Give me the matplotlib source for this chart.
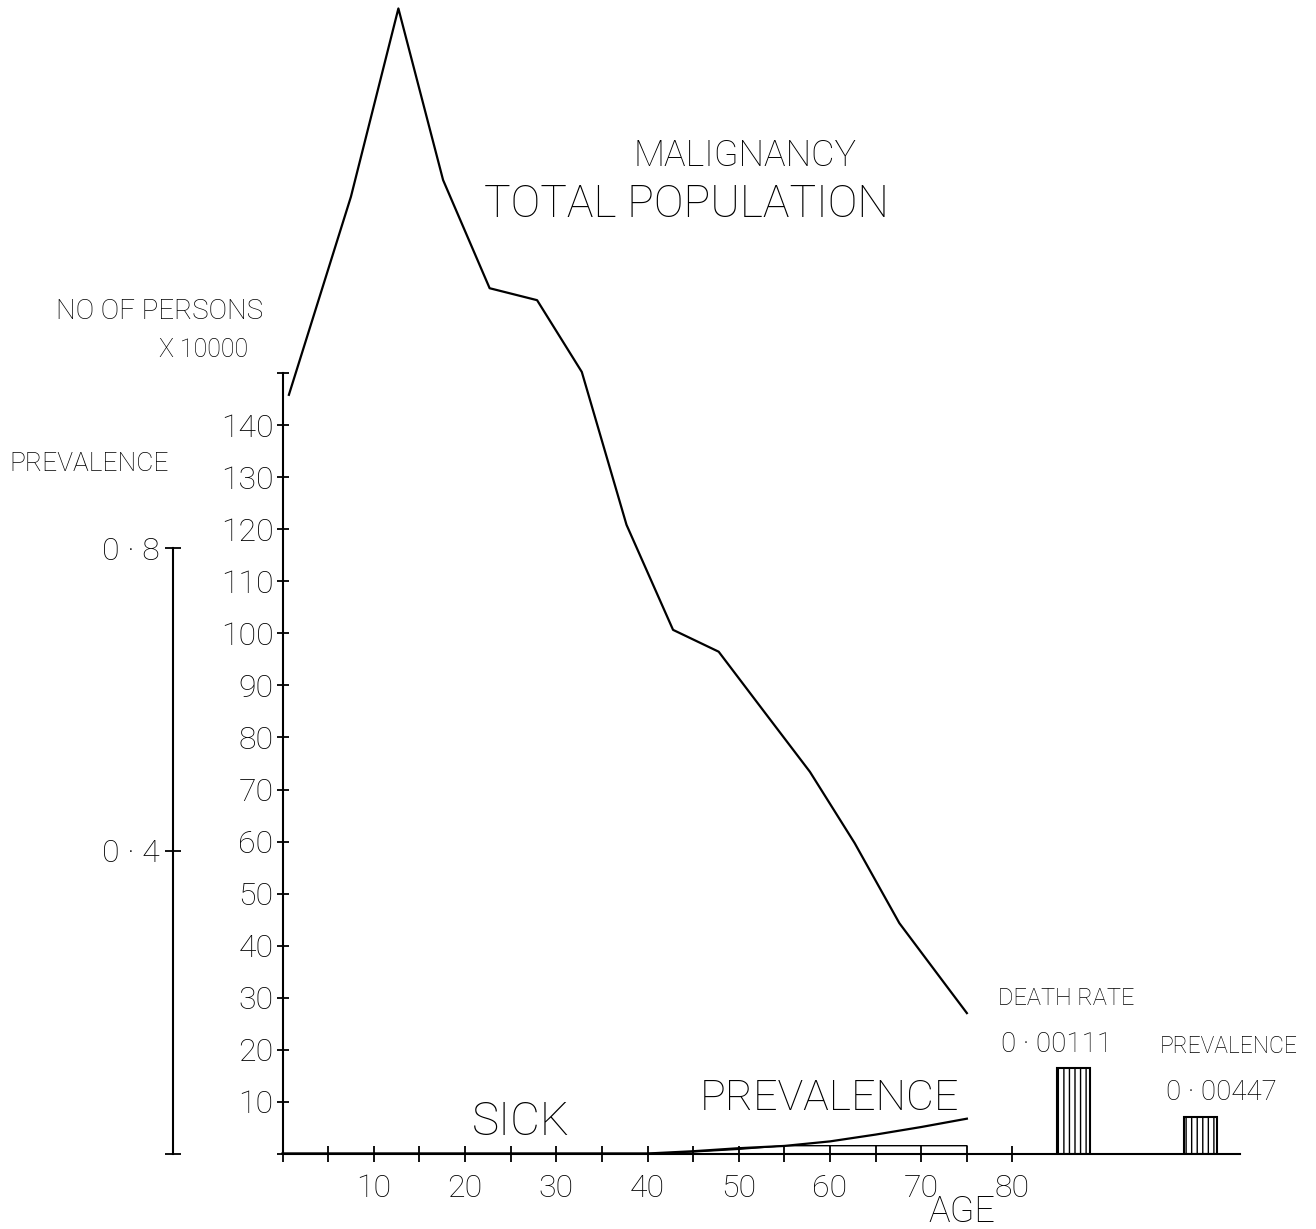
import matplotlib
matplotlib.use('Agg')
import matplotlib.pyplot as plt
from matplotlib import font_manager

# total population by age, in units of 10000 persons
pop_age = [0.7, 7.5, 12.7, 17.6, 22.7, 27.9, 32.8, 37.7, 42.8, 47.8, 52.9, 57.8, 62.7, 67.6, 72.6, 75.0]
pop_count = [145.9, 184.0, 220.2, 187.2, 166.4, 164.1, 150.3, 120.9, 100.7, 96.5, 84.7, 73.4, 59.7, 44.3, 32.6, 27.0]

# sick persons (x 10000) and prevalence by age
sick_age = [0, 40, 45, 50, 55, 60, 65, 70, 75]
sick_count = [0, 0, 0.3, 0.8, 1.5, 1.5, 1.5, 1.5, 1.5]
prev_age = [0, 40, 45, 50, 55, 60, 65, 70, 75]
prev_rate = [0, 0, 0.003, 0.007, 0.010, 0.016, 0.025, 0.035, 0.046]

# summary bars at the right
summary_x = [86.65, 100.6]
summary_height = [16.5, 7.1]
summary_names = ['DEATH RATE', 'PREVALENCE']
summary_values = ['0 · 00111', '0 · 00447']

age_ticks = list(range(0, 85, 5))
age_labels = ['' if a % 10 or a == 0 else str(a) for a in age_ticks]
count_ticks = list(range(0, 160, 10))
count_labels = ['' if c in (0, 150) else str(c) for c in count_ticks]
prev_ticks = [0, 0.4, 0.8]
prev_labels = ['', '0 · 4', '0 · 8']

names = {f.name for f in font_manager.fontManager.ttflist}
family = ['Roboto', 'DejaVu Sans'] if 'Roboto' in names else ['DejaVu Sans']
plt.rcParams['font.family'] = family
plt.rcParams['font.weight'] = 'light'

W, H = 1316, 1229
fig = plt.figure(figsize=(W / 100, H / 100), dpi=100)


def fx(px):
    return px / W


def fy(py):
    return 1 - py / H


x0, y0 = 282.5, 1153.5   # pixel position of the origin
px_year, px_count = 9.125, 5.2
ax = fig.add_axes([fx(x0), fy(y0), 1 - fx(x0), y0 / H])
ax.set_xlim(0, (W - x0) / px_year)
ax.set_ylim(0, y0 / px_count)
ax.patch.set_visible(False)
for s in ['top', 'right']:
    ax.spines[s].set_visible(False)
for s in ['left', 'bottom']:
    ax.spines[s].set_linewidth(1.5)
ax.spines['left'].set_bounds(0, 150)
ax.spines['bottom'].set_bounds(0, 104.9)

ax.set_xticks(age_ticks, age_labels)
ax.set_yticks(count_ticks, count_labels)
ax.tick_params(axis='x', direction='inout', length=11, width=1.3, pad=9, labelsize=23)
ax.tick_params(axis='y', direction='inout', length=9, width=1.3, pad=2, labelsize=23)

ax.plot(pop_age, pop_count, color='black', lw=1.6, clip_on=False)
ax.plot(sick_age, sick_count, color='black', lw=1.0, clip_on=False)
ax.bar(summary_x, summary_height, width=3.6, fill=False, edgecolor='black',
       hatch='|||', linewidth=1.5)

# prevalence scale on its own axis further left
ratio = (y0 - 548) / px_count / 0.8
ax2 = ax.twinx()
ax2.set_ylim(0, y0 / px_count / ratio)
ax2.patch.set_visible(False)
for s in ['top', 'right', 'bottom']:
    ax2.spines[s].set_visible(False)
ax2.spines['left'].set_visible(True)
ax2.spines['left'].set_position(('axes', (172.7 - x0) / (W - x0)))
ax2.spines['left'].set_bounds(0, 0.8)
ax2.spines['left'].set_linewidth(1.5)
ax2.yaxis.set_ticks_position('left')
ax2.yaxis.set_label_position('left')
ax2.set_yticks(prev_ticks, prev_labels)
ax2.tick_params(axis='y', direction='inout', length=11, width=1.3, pad=4, labelsize=23)
ax2.plot(prev_age, prev_rate, color='black', lw=1.6, clip_on=False)

txt = dict(ha='center', va='baseline', color='black')
fig.text(fx(745), fy(166), 'MALIGNANCY', fontsize=26, **txt)
fig.text(fx(686), fy(216.7), 'TOTAL POPULATION', fontsize=32, **txt)
fig.text(fx(160), fy(319), 'NO OF PERSONS', fontsize=20, **txt)
fig.text(fx(204), fy(357), 'X 10000', fontsize=18, **txt)
fig.text(fx(89), fy(471), 'PREVALENCE', fontsize=19, **txt)
fig.text(fx(521), fy(1135), 'SICK', fontsize=33, **txt)
fig.text(fx(829), fy(1110), 'PREVALENCE', fontsize=31, **txt)
fig.text(fx(962), fy(1222), 'AGE', fontsize=26, **txt)

fig.text(fx(1066), fy(1005), summary_names[0], fontsize=17, **txt)
fig.text(fx(1057), fy(1052), summary_values[0], fontsize=20, **txt)
fig.text(fx(1229), fy(1053), summary_names[1], fontsize=16.5, **txt)
fig.text(fx(1221), fy(1100), summary_values[1], fontsize=20, **txt)

fig.savefig('out.png', dpi=100, facecolor='white')
